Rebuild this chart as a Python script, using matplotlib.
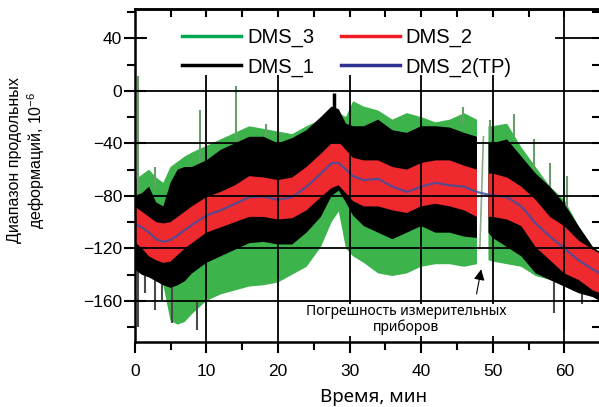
import numpy as np
import matplotlib
matplotlib.use("Agg")
import matplotlib.pyplot as plt
from matplotlib.patches import Rectangle

plt.rcParams['font.family'] = ['Liberation Sans', 'DejaVu Sans']
plt.rcParams['mathtext.fontset'] = 'custom'
plt.rcParams['mathtext.rm'] = 'Liberation Sans'

# время, мин (узлы огибающих); NaN - разрыв данных около 48.5 мин
t = [0, 1, 2, 3, 4, 5, 6, 7, 8, 10, 12, 14, 16, 18, 20, 22, 24, 26, 27.5, 28.5,
     29.5, 30.5, 32, 34, 36, 38, 40, 42, 44, 46, 47.8, 48.5, 49.4, 50, 52, 54,
     56, 58, 60, 62, 64, 65]

# DMS_2(TP) - сглаженная кривая
tp = [-101, -104, -108, -113, -115, -113.5, -110, -106, -102, -95, -91, -86, -81,
      -80.5, -83, -81, -73, -63, -55, -55, -60, -65, -68, -67, -73, -77, -73, -70,
      -72, -73, -77, -78, -79, -79.5, -81, -88, -101, -111, -120, -129, -136, -139]

# DMS_2 верх / низ
red_hi = [-88, -92, -96, -100, -101, -100, -96, -92, -88, -81, -77, -72, -65, -66,
          -68, -66, -58, -48, -40, -39, -45, -51, -53, -53, -58, -60, -55, -53, -53,
          -57, -60, np.nan, -63, -63, -66, -73, -83, -96, -103, -114, -121, -124]
red_lo = [-115, -120, -126, -129, -131, -130, -125, -120, -116, -108, -104, -100,
          -96, -96, -98, -97, -91, -81, -74, -72, -78, -84, -88, -88, -91, -93, -88,
          -86, -88, -91, -96, np.nan, -96, -96, -98, -103, -119, -129, -139, -144,
          -152, -154]

# DMS_1 верх / низ
blk_hi = [-80, -78, -73, -85, -88, -70, -60, -58, -58, -53, -45, -40, -35, -35, -40,
          -36, -30, -20, -12, -14, -25, -27, -27, -22, -30, -32, -27, -27, -28, -32,
          -35, np.nan, -40, -40, -37, -50, -63, -73, -86, -103, -119, -123]
blk_lo = [-136, -140, -142, -145, -148, -150, -148, -145, -139, -131, -126, -121,
          -116, -115, -117, -117, -108, -96, -80, -76, -85, -95, -103, -108, -113,
          -108, -103, -108, -108, -111, -112, np.nan, -108, -112, -119, -126, -139,
          -144, -149, -154, -157, -160]

# DMS_3 верх / низ
grn_hi = [-68, -64, -60, -66, -70, -58, -54, -50, -47, -42, -37, -32, -27, -29, -31,
          -33, -27, -22, -17, -17, -20, -8, -12, -15, -22, -17, -20, -24, -22, -17,
          -22, np.nan, -27, -27, -25, -43, -58, -73, -83, -103, -119, -123]
grn_lo = [-136, -140, -142, -145, -148, -175, -178, -176, -170, -160, -155, -152,
          -149, -148, -146, -140, -134, -119, -100, -92, -120, -126, -131, -139,
          -141, -139, -134, -132, -132, -134, -132, np.nan, -129, -130, -132, -134,
          -141, -144, -149, -154, -157, -160]

# отдельные выбросы вверх: время, от, до
spike_t = [0.5, 2.8, 9.1, 14.2, 18.4, 45.9, 49.6, 53.0, 55.7, 58.0, 60.4]
spike_lo = [-100, -75, -55, -40, -35, -25, -35, -35, -60, -80, -90]
spike_hi = [11, -58, -15, 4, -25, -12, -22, -18, -37, -55, -65]
# выбросы вниз
dspike_t = [0.5, 1.4, 2.8, 3.8, 5.2, 8.7, 58.5, 59.9, 62.4]
dspike_lo = [-180, -154, -167, -159, -177, -182, -169, -182, -162]
dspike_hi = [-130, -135, -140, -140, -145, -160, -140, -140, -150]
# пик DMS_1 около 28 мин
peak_t = [27.9]
peak_lo = [-20]
peak_hi = [-2]
# след сбоя прибора
err_t = [48.2, 48.7]
err_v = [-120, -35]

xticks = [0, 10, 20, 30, 40, 50, 60]
yticks = [40, 0, -40, -80, -120, -160]

green = '#3cb44b'
red = '#ee2a2e'
blue = '#3f4f9e'

fig = plt.figure(figsize=(5.99, 4.07), dpi=100)
ax = fig.add_axes([0.2249, 0.1604, 0.777, 0.8167])

ax.fill_between(t, grn_lo, grn_hi, color=green, lw=0, zorder=1)
ax.vlines(spike_t, spike_lo, spike_hi, color='#6a9e6a', lw=1.5, zorder=1)
ax.vlines(dspike_t, dspike_lo, dspike_hi, color='#4a4a4a', lw=1.5, zorder=1)
ax.plot(err_t, err_v, color='#8aa88a', lw=1.2, zorder=1)
ax.fill_between(t, blk_lo, blk_hi, color='black', lw=0, zorder=1.2)
ax.vlines(peak_t, peak_lo, peak_hi, color='black', lw=2.5, zorder=1.2)
ax.fill_between(t, red_lo, red_hi, color=red, lw=0, zorder=1.4)
ax.plot(t, tp, color=blue, lw=1.6, alpha=0.85, zorder=1.6)

# линии для легенды
ax.plot([], [], color='#00a651', lw=2.5, label='DMS_3')
ax.plot([], [], color='black', lw=2.5, label='DMS_1')
ax.plot([], [], color='#ed1c24', lw=2.5, label='DMS_2')
ax.plot([], [], color='#2e3192', lw=2.5, label='DMS_2(TP)')

ax.set_xlim(0, 65)
ax.set_ylim(-191, 62)
ax.set_xticks(xticks)
ax.set_yticks(yticks)
ax.set_yticklabels([str(v).replace('-', '\u2212') for v in yticks])
ax.set_xticks(np.arange(5, 65, 10), minor=True)
ax.set_yticks(np.arange(-180, 61, 40), minor=True)
ax.grid(True, which='major', color='black', lw=1.3, zorder=2)
ax.set_axisbelow(False)

ax.tick_params(axis='y', which='major', direction='inout', length=16, width=1.5,
               labelsize=12.5, pad=1)
ax.tick_params(axis='x', which='major', direction='out', length=8, width=1.5,
               labelsize=12.5, pad=8)
ax.tick_params(which='minor', direction='out', length=6, width=1.5)
for s in ax.spines.values():
    s.set_linewidth(1.8)

secx = ax.secondary_xaxis('top')
secx.set_xticks(np.arange(5, 65, 5))
secx.tick_params(direction='in', length=6, width=1.5, labeltop=False)
secx.spines['top'].set_linewidth(1.8)
secy = ax.secondary_yaxis('right')
secy.set_yticks(np.arange(-180, 61, 20))
secy.tick_params(direction='in', length=6, width=1.5, labelright=False)

# белая подложка под легендой
ax.add_patch(Rectangle((0.026, 0.802), 0.877, 0.175, transform=ax.transAxes,
                       facecolor='white', edgecolor='none', zorder=4))
leg = ax.legend(ncol=2, loc='upper left', bbox_to_anchor=(0.1016, 0.944),
                fontsize=14.5, frameon=False, handlelength=2.94,
                handletextpad=0.3, columnspacing=1.3, labelspacing=0.5,
                borderpad=0, borderaxespad=0)
leg.set_zorder(5)

ax.annotate('', xy=(48.46, -133.8), xytext=(47.67, -156.7),
            arrowprops=dict(arrowstyle='-|>', color='black', lw=0.8,
                            mutation_scale=16), zorder=4)
ax.text(37.9, -174.4, 'Погрешность измерительных\nприборов', ha='center',
        va='center', fontsize=10, family='Noto Sans', linespacing=1.05, zorder=4,
        bbox=dict(facecolor='white', edgecolor='none', pad=0.5))

fig.text(374 / 599, 1 - 397 / 407, 'Время, мин', ha='center', va='center',
         fontsize=13.5, family='Noto Sans')
fig.text(27 / 599, 1 - 160 / 407, 'Диапазон продольных\nдеформаций, $10^{-6}$',
         rotation=90, ha='center', va='center', fontsize=11.5, linespacing=1.15,
         multialignment='center')

fig.savefig('out.png', dpi=100)
